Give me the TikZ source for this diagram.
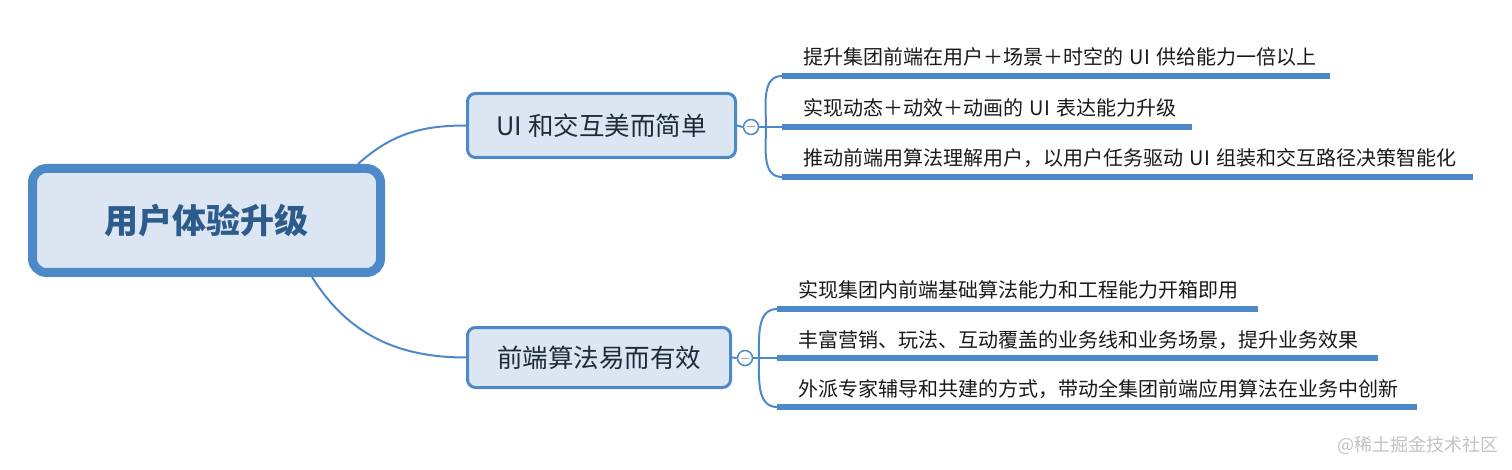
\documentclass[tikz,border=0pt]{standalone}
\usepackage{fontspec}
\newfontfamily\cjk{Noto Sans CJK SC}
\usepackage{tikz}
\usetikzlibrary{positioning}
\usepackage{xcolor}
\definecolor{mapBlue}{HTML}{4D88C8}
\definecolor{mapFill}{HTML}{DBE6F2}
\definecolor{rootText}{HTML}{2D5B8C}
\definecolor{topicText}{HTML}{1D2A3A}
\definecolor{markGray}{HTML}{C2C2C2}

\begin{document}
\begin{tikzpicture}[x=1pt, y=-1pt,
    rootbox/.style={draw=mapBlue, fill=mapFill, line width=9pt, rounded corners=14pt,
        inner sep=0pt, minimum width=348pt, minimum height=104pt, text=rootText,
        font=\cjk\bfseries\fontsize{34}{40}\selectfont},
    topicbox/.style={draw=mapBlue, fill=mapFill, line width=3pt, rounded corners=8pt,
        inner sep=0pt, text=topicText, font=\cjk\fontsize{25.5}{30}\selectfont},
    fold/.style={circle, draw=mapBlue, line width=1.5pt, fill=white, minimum size=15pt,
        inner sep=0pt, path picture={\draw[gray!70, line width=1pt]
        ([xshift=-4pt]path picture bounding box.center) --
        ([xshift=4pt]path picture bounding box.center);}},
    item/.style={anchor=south west, inner xsep=21pt, inner ysep=11pt, outer sep=0pt,
        text height=16pt, text depth=0pt, align=left, text=black!90,
        font=\cjk\fontsize{20}{24}\selectfont},
    link/.style={mapBlue, line width=2pt},
    uline/.style={mapBlue, line width=6pt},
    wmark/.style={anchor=west, text=markGray, font=\cjk\fontsize{18}{22}\selectfont}]
    \useasboundingbox (0,0) rectangle (1512,470);

    \node[rootbox] (root) at (206.5,220.5) {用户体验升级};
    \node[topicbox, minimum width=268pt, minimum height=64pt] (b1) at (601.5,125.5) {UI 和交互美而简单};
    \node[topicbox, minimum width=263pt, minimum height=60pt] (b2) at (599,357.5) {前端算法易而有效};
    \draw[link] ([xshift=-27pt]root.north east) to[out=42, in=180] (b1.west);
    \draw[link] ([xshift=-73pt]root.south east) to[out=-58, in=180] (b2.west);

    % first topic
    \node[fold] (c1) at (751,127) {};
    \coordinate (k1) at (766,127);
    \draw[link] (b1.east) -- (c1.west);
    \draw[link] (c1.east) -- (k1);
    \foreach \n/\y/\w/\t in {s11/76/506/提升集团前端在用户＋场景＋时空的 UI 供给能力一倍以上,
                              s12/127/368/实现动态＋动效＋动画的 UI 表达能力升级,
                              s13/177/649/推动前端用算法理解用户，以用户任务驱动 UI 组装和交互路径决策智能化} {
        \node[item, text width=\w pt] (\n) at (782,\y) {\mbox{\t}};
        \draw[uline] (\n.south west) -- (\n.south east);
    }
    \draw[link] (k1) to[out=90, in=180] (s11.south west);
    \draw[link] (k1) -- (s12.south west);
    \draw[link] (k1) to[out=-90, in=180] (s13.south west);

    % second topic
    \node[fold] (c2) at (745,358) {};
    \coordinate (k2) at (759,358);
    \draw[link] (b2.east) -- (c2.west);
    \draw[link] (c2.east) -- (k2);
    \foreach \n/\y/\w/\t in {s21/309/439/实现集团内前端基础算法能力和工程能力开箱即用,
                              s22/358/559/丰富营销、玩法、互动覆盖的业务线和业务场景，提升业务效果,
                              s23/407/598/外派专家辅导和共建的方式，带动全集团前端应用算法在业务中创新} {
        \node[item, text width=\w pt] (\n) at (777,\y) {\mbox{\t}};
        \draw[uline] (\n.south west) -- (\n.south east);
    }
    \draw[link] (k2) to[out=90, in=180] (s21.south west);
    \draw[link] (k2) -- (s22.south west);
    \draw[link] (k2) to[out=-90, in=180] (s23.south west);

    \node[wmark] (wm) at (1334,445) {@稀土掘金技术社区};
\end{tikzpicture}
\end{document}
